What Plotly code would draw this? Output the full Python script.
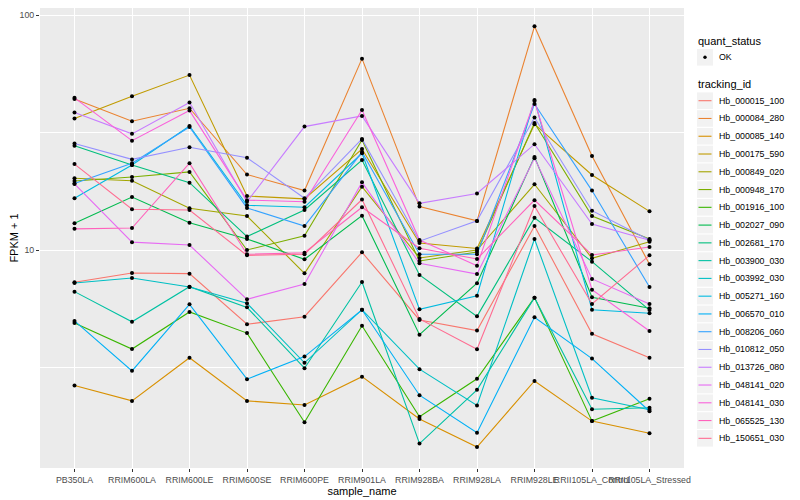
import plotly.graph_objects as go

sample_names = ["PB350LA", "RRIM600LA", "RRIM600LE", "RRIM600SE", "RRIM600PE",
                "RRIM901LA", "RRIM928BA", "RRIM928LA", "RRIM928LE",
                "RRII105LA_Control", "RRII105LA_Stressed"]

tracking_ids = ["Hb_000015_100", "Hb_000084_280", "Hb_000085_140", "Hb_000175_590",
                "Hb_000849_020", "Hb_000948_170", "Hb_001916_100", "Hb_002027_090",
                "Hb_002681_170", "Hb_003900_030", "Hb_003992_030", "Hb_005271_160",
                "Hb_006570_010", "Hb_008206_060", "Hb_010812_050", "Hb_013726_080",
                "Hb_048141_020", "Hb_048141_030", "Hb_065525_130", "Hb_150651_030"]

colors = ["#F8766D", "#EA8331", "#D89000", "#C09B00", "#A3A500", "#7CAE00", "#39B600",
          "#00BB4E", "#00BF7D", "#00C1A3", "#00BFC4", "#00BAE0", "#00B0F6", "#35A2FF",
          "#9590FF", "#C77CFF", "#E76BF3", "#FA62DB", "#FF62BC", "#FF6C91"]

# FPKM + 1 per sample (same order as sample_names)
hb_000015_100 = [7.29, 7.98, 7.93, 4.83, 5.20, 9.78, 5.04, 4.54, 12.65, 4.40, 3.48]
hb_000084_280 = [43.9, 35.3, 40.1, 20.95, 17.9, 65.2, 15.3, 13.3, 89.5, 25.1, 8.69]
hb_000085_140 = [2.65, 2.28, 3.48, 2.28, 2.19, 2.89, 1.91, 1.45, 2.77, 1.87, 1.66]
hb_000175_590 = [36.3, 45.1, 55.5, 16.97, 16.5, 26.9, 10.7, 10.15, 34.3, 20.85, 14.6]
hb_000849_020 = [20.2, 19.7, 15.05, 13.95, 7.96, 18.6, 9.25, 10.0, 19.04, 9.22, 10.85]
hb_000948_170 = [19.66, 20.45, 21.5, 10.0, 11.5, 29.4, 8.98, 9.8, 34.7, 13.95, 11.14]
hb_001916_100 = [4.89, 3.79, 5.45, 4.43, 1.85, 4.76, 1.95, 2.83, 6.27, 1.87, 2.33]
hb_002027_090 = [13.0, 16.8, 13.07, 11.14, 9.13, 14.0, 4.36, 7.22, 24.9, 6.29, 5.65]
hb_002681_170 = [27.8, 23.0, 19.34, 11.4, 14.8, 24.15, 7.83, 5.22, 13.7, 8.92, 5.55]
hb_003900_030 = [6.65, 4.95, 6.98, 5.70, 3.14, 7.31, 1.50, 2.54, 6.27, 2.10, 2.13]
hb_003992_030 = [7.24, 7.60, 6.96, 5.93, 3.31, 5.57, 3.11, 2.18, 11.14, 2.35, 2.09]
hb_005271_160 = [16.6, 23.0, 33.7, 15.5, 15.2, 25.8, 5.59, 6.39, 43.5, 5.57, 5.38]
hb_006570_010 = [4.99, 3.06, 5.87, 2.82, 3.52, 5.57, 2.41, 1.67, 5.17, 3.45, 2.06]
hb_008206_060 = [19.2, 23.4, 33.4, 15.1, 12.65, 26.1, 9.59, 9.6, 41.8, 17.9, 6.96]
hb_010812_050 = [28.4, 24.3, 27.35, 24.7, 16.6, 29.7, 10.9, 13.3, 36.6, 14.7, 11.03]
hb_013726_080 = [38.5, 31.2, 42.4, 16.05, 33.5, 37.2, 15.8, 17.4, 28.2, 12.9, 11.0]
hb_048141_020 = [19.1, 10.8, 10.5, 6.17, 7.17, 19.4, 8.78, 7.90, 24.6, 7.53, 5.89]
hb_048141_030 = [44.4, 29.2, 39.2, 16.3, 16.05, 39.4, 11.03, 8.58, 43.05, 6.78, 4.52]
hb_065525_130 = [12.3, 12.4, 23.4, 9.59, 9.74, 15.2, 10.17, 9.16, 16.3, 9.52, 10.3]
hb_150651_030 = [23.2, 14.9, 14.8, 9.49, 9.6, 16.4, 5.09, 3.78, 15.4, 5.89, 9.49]

series_values = [hb_000015_100, hb_000084_280, hb_000085_140, hb_000175_590,
                 hb_000849_020, hb_000948_170, hb_001916_100, hb_002027_090,
                 hb_002681_170, hb_003900_030, hb_003992_030, hb_005271_160,
                 hb_006570_010, hb_008206_060, hb_010812_050, hb_013726_080,
                 hb_048141_020, hb_048141_030, hb_065525_130, hb_150651_030]

FONT = "Liberation Sans, Arial, Helvetica, sans-serif"

fig = go.Figure()
for name, vals, col in zip(tracking_ids, series_values, colors):
    fig.add_trace(go.Scatter(x=sample_names, y=vals, mode="lines", name=name,
                             line=dict(color=col, width=1.1), showlegend=False))

all_x, all_y = [], []
for vals in series_values:
    all_x += sample_names
    all_y += vals
fig.add_trace(go.Scatter(x=all_x, y=all_y, mode="markers", name="OK",
                         marker=dict(color="black", size=4), showlegend=False))

# the page body adds an 8 px offset; panel edges below are in screen pixels
OFF = 8
L, R, T, B = 40, 684, 8, 468
def px(x):
    return (x - L) / (R - L)
def py(y):
    return (B - y) / (B - T)

shapes, annots = [], []
key_l, key_r = 697, 713
text_x = 717

annots.append(dict(x=px(696), y=py(40.7), xref="paper", yref="paper", text="quant_status",
                   showarrow=False, xanchor="left", yanchor="middle",
                   font=dict(size=11, color="black", family=FONT)))
shapes.append(dict(type="rect", xref="paper", yref="paper", x0=px(key_l), x1=px(key_r),
                   y0=py(57.3 - 8.3), y1=py(57.3 + 8.3), fillcolor="#F2F2F2", line=dict(width=0),
                   layer="below"))
shapes.append(dict(type="circle", xref="paper", yref="paper", x0=px(703.3), x1=px(706.7),
                   y0=py(57.3 - 1.7), y1=py(57.3 + 1.7), fillcolor="black", line=dict(width=0)))
annots.append(dict(x=px(text_x), y=py(57.3), xref="paper", yref="paper", text="OK",
                   showarrow=False, xanchor="left", yanchor="middle",
                   font=dict(size=8.8, color="black", family=FONT)))
annots.append(dict(x=px(696), y=py(84.3), xref="paper", yref="paper", text="tracking_id",
                   showarrow=False, xanchor="left", yanchor="middle",
                   font=dict(size=11, color="black", family=FONT)))
step = 17.77
for i, (name, col) in enumerate(zip(tracking_ids, colors)):
    cy = 100.7 + i * step
    shapes.append(dict(type="rect", xref="paper", yref="paper", x0=px(key_l), x1=px(key_r),
                       y0=py(cy - 8.3), y1=py(cy + 8.3), fillcolor="#F2F2F2",
                       line=dict(width=0), layer="below"))
    shapes.append(dict(type="line", xref="paper", yref="paper", x0=px(698.5), x1=px(711.5),
                       y0=py(cy), y1=py(cy), line=dict(color=col, width=1.1)))
    annots.append(dict(x=px(text_x), y=py(cy), xref="paper", yref="paper", text=name,
                       showarrow=False, xanchor="left", yanchor="middle",
                       font=dict(size=8.8, color="black", family=FONT)))

fig.update_layout(
    width=800, height=500,
    margin=dict(l=L - OFF, r=800 - (R - OFF), t=T - OFF, b=500 - (B - OFF)),
    plot_bgcolor="#EBEBEB", paper_bgcolor="white",
    showlegend=False,
    font=dict(family=FONT, color="black"),
    shapes=shapes, annotations=annots,
)
fig.update_xaxes(
    type="category", categoryorder="array", categoryarray=sample_names,
    range=[-0.6, len(sample_names) - 0.4],
    showgrid=True, gridcolor="white", gridwidth=1.1, zeroline=False, showline=False,
    ticks="outside", ticklen=3, tickwidth=1, tickcolor="#333333", tickangle=0,
    tickfont=dict(size=8.8, color="#4D4D4D", family=FONT),
    title=dict(text="sample_name", font=dict(size=11, color="black", family=FONT), standoff=3),
    automargin=False,
)
fig.update_yaxes(
    type="log", range=[0.0723, 2.0298],
    tickmode="array", tickvals=[10, 100], ticktext=["10", "100"],
    showgrid=True, gridcolor="white", gridwidth=1.1, zeroline=False, showline=False,
    minor=dict(tickmode="array", tickvals=[10 ** 0.5, 10 ** 1.5], showgrid=True,
               gridcolor="white", gridwidth=0.55, ticks=""),
    ticks="outside", ticklen=3, tickwidth=1, tickcolor="#333333",
    tickfont=dict(size=8.8, color="#4D4D4D", family=FONT),
    title=dict(text="FPKM + 1", font=dict(size=11, color="black", family=FONT), standoff=0),
    automargin=False,
)

fig.write_html("out.html")
